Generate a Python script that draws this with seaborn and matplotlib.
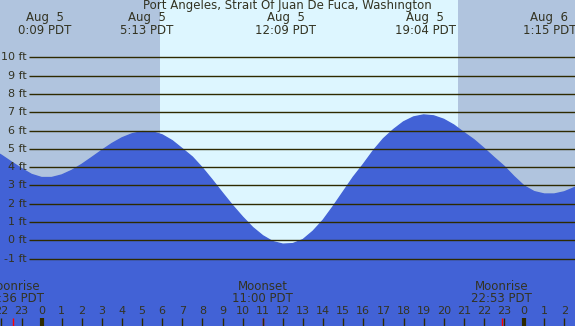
import numpy as np
import pandas as pd
import matplotlib
matplotlib.use("Agg")
import matplotlib.pyplot as plt
import matplotlib.transforms as mtransforms
import seaborn as sns

# tide height (ft) every half hour, hours from midnight Aug 5
hours = [-2.5, -2.0, -1.5, -1.0, -0.5, 0.0, 0.5, 1.0, 1.5, 2.0, 2.5, 3.0, 3.5,
         4.0, 4.5, 5.0, 5.5, 6.0, 6.5, 7.0, 7.5, 8.0, 8.5, 9.0, 9.5, 10.0,
         10.5, 11.0, 11.5, 12.0, 12.5, 13.0, 13.5, 14.0, 14.5, 15.0, 15.5,
         16.0, 16.5, 17.0, 17.5, 18.0, 18.5, 19.0, 19.5, 20.0, 20.5, 21.0,
         21.5, 22.0, 22.5, 23.0, 23.5, 24.0, 24.5, 25.0, 25.5, 26.0, 26.5, 27.0]
height = [4.98, 4.65, 4.28, 3.92, 3.60, 3.43, 3.43, 3.57, 3.82, 4.15, 4.53,
          4.92, 5.29, 5.60, 5.82, 5.94, 5.93, 5.76, 5.44, 5.00, 4.55, 3.95,
          3.28, 2.58, 1.90, 1.27, 0.70, 0.25, -0.07, -0.21, -0.18, 0.04, 0.50,
          1.10, 1.85, 2.65, 3.45, 4.15, 4.90, 5.55, 6.05, 6.47, 6.74, 6.85,
          6.80, 6.61, 6.30, 5.89, 5.50, 5.03, 4.53, 4.05, 3.48, 2.97, 2.66,
          2.53, 2.53, 2.65, 2.88, 3.15]

# high / low labels
ext_hours = [0.15, 5.22, 12.15, 19.07, 25.25]
ext_day = ["Aug  5", "Aug  5", "Aug  5", "Aug  5", "Aug  6"]
ext_time = ["0:09 PDT", "5:13 PDT", "12:09 PDT", "19:04 PDT", "1:15 PDT"]

# moon events
moon_hours = [-1.40, 11.00, 22.88]
moon_event = ["Moonrise", "Moonset", "Moonrise"]
moon_time = ["22:36 PDT", "11:00 PDT", "22:53 PDT"]

sunrise, sunset = 5.89, 20.71
levels = list(range(-1, 11))
title = "Port Angeles, Strait Of Juan De Fuca, Washington"

x0, x1 = -2.07, 26.53
y0, y1 = -4.68, 13.13

sns.set_style("white")
plt.rcParams["font.family"] = ["DejaVu Sans"]
txt = "#333322"
water = "#4262d6"
day = "#ddf6ff"

df = pd.DataFrame({"hour": hours, "ft": height})

fig = plt.figure(figsize=(5.75, 3.26), dpi=100, facecolor=day)
ax = fig.add_axes([0, 0, 1, 1])
ax.set_facecolor(day)
ax.set_xticks([])
ax.set_yticks([])
for s in ax.spines.values():
    s.set_visible(False)

ax.axvspan(x0 - 1, sunrise, color="#b0c4de", lw=0, zorder=0)
ax.axvspan(sunset, x1 + 1, color="#b0c4de", lw=0, zorder=0)

ax.fill_between(df["hour"], df["ft"], y0 - 1, color=water, lw=0, zorder=1)
sns.lineplot(data=df, x="hour", y="ft", ax=ax, color=water, lw=1, zorder=1)
ax.set_xlabel("")
ax.set_ylabel("")
ax.set_xlim(x0, x1)
ax.set_ylim(y0, y1)

bx = mtransforms.blended_transform_factory(ax.transAxes, ax.transData)
ax.hlines(levels, 29 / 575, 1, transform=bx, color="#2e2a00", lw=1, zorder=3)
for lv in levels:
    ax.text(27 / 575, lv, f"{lv} ft", transform=bx, ha="right", va="center",
            fontsize=8, color=txt)

tb = mtransforms.blended_transform_factory(ax.transData, ax.transAxes)
ax.text(0.5, 1 - 6 / 326, title, transform=ax.transAxes, ha="center",
        va="center", fontsize=8.5, color=txt)
for h, d, t in zip(ext_hours, ext_day, ext_time):
    ax.text(h, 1 - 18 / 326, d, transform=tb, ha="center", va="center",
            fontsize=8.5, color=txt)
    ax.text(h, 1 - 30 / 326, t, transform=tb, ha="center", va="center",
            fontsize=8.5, color=txt)

for h, e, t in zip(moon_hours, moon_event, moon_time):
    ax.text(h, 40 / 326, e, transform=tb, ha="center", va="center",
            fontsize=8.5, color=txt)
    ax.text(h, 28 / 326, t, transform=tb, ha="center", va="center",
            fontsize=8.5, color=txt)
    ax.vlines(h, 0, 8 / 326, transform=tb, color="red", lw=1, zorder=4)

for hr in range(-2, 27):
    ax.text(hr, 15 / 326, str(hr % 24), transform=tb, ha="center",
            va="center", fontsize=8, color=txt)
    ax.vlines(hr, 0, 8 / 326, transform=tb, color="#2e2a00",
              lw=3 if hr % 24 == 0 else 1, zorder=4)

fig.savefig("out.png", dpi=100, facecolor=day)
